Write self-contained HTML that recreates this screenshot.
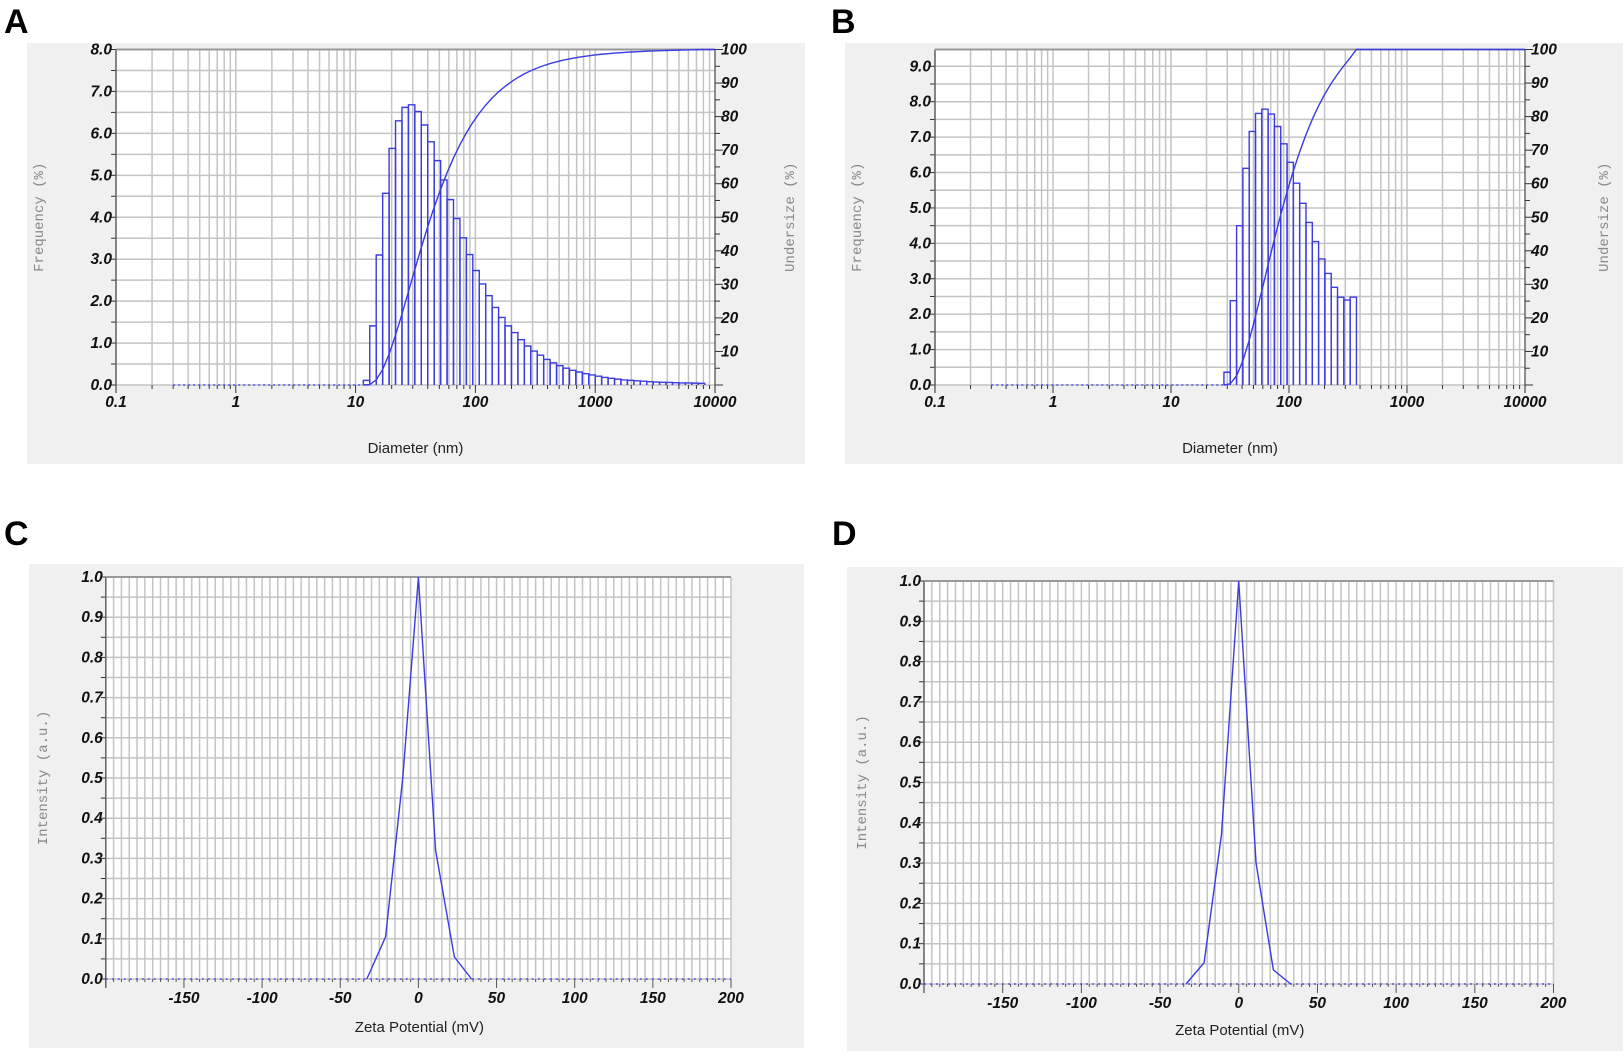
<!DOCTYPE html>
<html><head><meta charset="utf-8">
<style>
html,body{margin:0;padding:0;background:#fff;}
svg{display:block;}
.tick{font-family:"Liberation Sans",sans-serif;font-weight:bold;font-style:italic;font-size:15.5px;fill:#111;}
.mono{font-family:"Liberation Mono",monospace;font-size:14px;fill:#888;}
.xt{font-family:"Liberation Sans",sans-serif;font-size:15px;fill:#222;}
.pl{font-family:"Liberation Sans",sans-serif;font-weight:bold;font-size:34px;fill:#000;}
</style></head>
<body>
<svg id="fig" width="1624" height="1057" viewBox="0 0 1624 1057" xmlns="http://www.w3.org/2000/svg"></svg>
<script>
// ---- Data ----
const aBinStart = 11.6;
const aBinsPerDecade = 18.6;
const aFreq = [0.11,1.41,3.1,4.57,5.64,6.3,6.62,6.68,6.52,6.2,5.8,5.35,4.89,4.42,3.97,3.51,3.11,2.73,2.41,2.13,1.85,1.61,1.41,1.25,1.08,0.93,0.81,0.71,0.61,0.53,0.46,0.40,0.35,0.31,0.27,0.24,0.21,0.18,0.16,0.14,0.12,0.11,0.10,0.09,0.08,0.07,0.065,0.06,0.055,0.05,0.05,0.045,0.04];
const bBinStart = 28.1;
const bBinsPerDecade = 18.7;
const bFreq = [0.36,2.38,4.5,6.12,7.16,7.67,7.79,7.65,7.3,6.81,6.29,5.7,5.13,4.59,4.05,3.56,3.15,2.76,2.48,2.4,2.48];
const cMv = [-33,-21,-10,0,11,23,34];
const cInt = [0,0.105,0.5,1.0,0.32,0.055,0];
const dMv = [-33.5,-22,-11,0,11,22,33];
const dInt = [0,0.053,0.37,1.0,0.3,0.035,0];
const aYTicks = ["0.0","1.0","2.0","3.0","4.0","5.0","6.0","7.0","8.0"];
const bYTicks = ["0.0","1.0","2.0","3.0","4.0","5.0","6.0","7.0","8.0","9.0"];
const rTicks = [10,20,30,40,50,60,70,80,90,100];
const logTicks = ["0.1","1","10","100","1000","10000"];
const zTicks = [-150,-100,-50,0,50,100,150,200];
const zyTicks = ["0.0","0.1","0.2","0.3","0.4","0.5","0.6","0.7","0.8","0.9","1.0"];

const NS="http://www.w3.org/2000/svg";
const svg=document.getElementById('fig');
function el(tag,attrs,parent,text){const e=document.createElementNS(NS,tag);for(const k in attrs)e.setAttribute(k,attrs[k]);if(text!==undefined)e.textContent=text;(parent||svg).appendChild(e);return e;}
const BLUE="#3b3be0", GRID="#c4c4c4";

function panelLetter(t,x,y){const e=el('text',{x:x,y:y,class:'pl'},svg,t);}

function sizePanel(cfg){
  const g=el('g',{});
  const bg=el('rect',{x:cfg.bx,y:cfg.by,width:cfg.bw,height:cfg.bh,fill:'#f0f0f0'},g);
  
  const L=cfg.x0,R=cfg.x1,T=cfg.yTop,B=cfg.y0;
  el('rect',{x:L,y:T,width:R-L,height:B-T,fill:'#fff'},g);
  const dec=(R-L)/5;
  const X=d=>L+(Math.log10(d)+1)*dec;
  const Y=v=>B-v*(B-cfg.yRef)/cfg.yRefVal;
  const grid=el('g',{stroke:GRID,'stroke-width':1.5},g);
  for(let e=-1;e<4;e++)for(let m=1;m<10;m++){const x=X(m*Math.pow(10,e));el('line',{x1:x,x2:x,y1:T,y2:B},grid);
    el('line',{x1:x,x2:x,y1:B,y2:B+(m==1?8:4),stroke:'#333'},g);}
  for(let v=0;v*(B-cfg.yRef)/cfg.yRefVal<=B-T+0.5;v+=0.5){const y=Y(v);el('line',{x1:L,x2:R,y1:y,y2:y},grid);el('line',{x1:L-5,x2:L,y1:y,y2:y,stroke:'#333'},g);}
  el('line',{x1:R,x2:R+8,y1:B,y2:B,stroke:'#333'},g);
  el('line',{x1:L,x2:L,y1:T,y2:B+8,stroke:'#555','stroke-width':1.3},g);
  el('line',{x1:R,x2:R,y1:T,y2:B+8,stroke:'#555','stroke-width':1.3},g);
  el('line',{x1:L,x2:R,y1:T,y2:T,stroke:'#999','stroke-width':2},g);
  cfg.yt.forEach((t,i)=>{const tx=el('text',{x:L-4,y:Y(i)+5,class:'tick','text-anchor':'end'},g,t);});
  const YR=p=>B-p/100*(B-T);
  for(let p=5;p<=100;p+=5){el('line',{x1:R,x2:R+(p%10==0?8:5),y1:YR(p),y2:YR(p),stroke:'#333'},g);}
  rTicks.forEach(p=>{const tx=el('text',{x:R+6,y:YR(p)+5,class:'tick'},g,String(p));});
  logTicks.forEach(t=>{const tx=el('text',{x:X(parseFloat(t)),y:B+22,class:'tick','text-anchor':'middle'},g,t);});
  el('line',{x1:X(0.3),x2:X(cfg.bs),y1:B,y2:B,stroke:BLUE,'stroke-width':1.3,'stroke-dasharray':'2,3'},g);
  const bars=el('g',{fill:'none',stroke:BLUE,'stroke-width':1.4},g);
  const r=Math.pow(10,1/cfg.bpd);
  let lo=cfg.bs, cum=0; const tot=cfg.f.reduce((a,b)=>a+b,0);
  const pts=[[X(lo),YR(0)]];
  cfg.f.forEach((v,i)=>{const hi=lo*r;const x1=X(lo),x2=X(hi),y=Y(v);
    const b=el('path',{d:`M${x1},${B}V${y}H${x2}V${B}`},bars);
    cum+=v;pts.push([x2,YR(cum/tot*100)]);lo=hi;});
  pts.push([R,YR(100)]);
  const c=el('polyline',{points:pts.map(p=>p.join(',')).join(' '),fill:'none',stroke:BLUE,'stroke-width':1.4},g);
  
  const xt=el('text',{x:(L+R)/2,y:cfg.by+cfg.bh-11,class:'xt','text-anchor':'middle'},g,'Diameter (nm)');
  const yt=el('text',{x:0,y:0,class:'mono','text-anchor':'middle',transform:`translate(${cfg.lx},${(T+B)/2}) rotate(-90)`},g,'Frequency (%)');
  const rt=el('text',{x:0,y:0,class:'mono','text-anchor':'middle',transform:`translate(${cfg.rx},${(T+B)/2}) rotate(-90)`},g,'Undersize (%)');
}

function zetaPanel(cfg){
  const g=el('g',{});
  const bg=el('rect',{x:cfg.bx,y:cfg.by,width:cfg.bw,height:cfg.bh,fill:'#f0f0f0'},g);
  
  const L=cfg.x0,R=cfg.x1,T=cfg.yTop,B=cfg.y0;
  const X=v=>L+(v+200)/400*(R-L), Y=v=>B-v*(B-T);
  el('rect',{x:L,y:T,width:R-L,height:B-T,fill:'#fff'},g);
  const grid=el('g',{stroke:GRID,'stroke-width':1.5},g);
  for(let v=-200;v<=200;v+=5){const x=X(v);el('line',{x1:x,x2:x,y1:T,y2:B},grid);el('line',{x1:x,x2:x,y1:B,y2:B+(v%50==0?9:3),stroke:'#555'},g);}
  for(let i=0;i<=20;i++){const y=Y(i*0.05);el('line',{x1:L,x2:R,y1:y,y2:y},grid);el('line',{x1:L-5,x2:L,y1:y,y2:y,stroke:'#333'},g);}
  el('line',{x1:L,x2:L,y1:T,y2:B+9,stroke:'#555','stroke-width':1.3},g);
  el('line',{x1:L,x2:R,y1:T,y2:T,stroke:'#999','stroke-width':2},g);
  el('line',{x1:L,x2:R,y1:B,y2:B,stroke:BLUE,'stroke-width':1.2,'stroke-dasharray':'2,4'},g);
  zyTicks.forEach((t,i)=>{const tx=el('text',{x:L-3,y:Y(i*0.1)+5,class:'tick','text-anchor':'end'},g,t);});
  zTicks.forEach(t=>{const tx=el('text',{x:X(t),y:B+24,class:'tick','text-anchor':'middle'},g,String(t));});
  const pts=cfg.xs.map((v,i)=>X(v)+','+Y(cfg.ys[i])).join(' ');
  const ln=el('polyline',{points:pts,fill:'none',stroke:BLUE,'stroke-width':1.4},g);
  const xt=el('text',{x:X(0)+1,y:cfg.by+cfg.bh-16,class:'xt','text-anchor':'middle'},g,'Zeta Potential (mV)');
  const yt=el('text',{x:0,y:0,class:'mono','text-anchor':'middle',transform:`translate(${cfg.lx},${(T+B)/2}) rotate(-90)`},g,'Intensity (a.u.)');
}

sizePanel({name:'panel-a',bx:27,by:43,bw:778,bh:421,x0:116,x1:715,yTop:49.5,y0:385,yRef:49.5,yRefVal:8,yt:aYTicks,bs:aBinStart,bpd:aBinsPerDecade,f:aFreq,lx:43,rx:794});
sizePanel({name:'panel-b',bx:845,by:43,bw:778,bh:421,x0:935,x1:1525,yTop:49.5,y0:385,yRef:66.3,yRefVal:9,yt:bYTicks,bs:bBinStart,bpd:bBinsPerDecade,f:bFreq,lx:861,rx:1608});
zetaPanel({name:'panel-c',bx:29,by:564,bw:775,bh:484,x0:105.8,x1:731,yTop:577,y0:979,xs:cMv,ys:cInt,lx:47});
zetaPanel({name:'panel-d',bx:847,by:567,bw:776,bh:484,x0:924,x1:1553.5,yTop:581,y0:984,xs:dMv,ys:dInt,lx:866});
panelLetter('A',4,33);panelLetter('B',831,33);panelLetter('C',4,545);panelLetter('D',832,545);
</script>
</body></html>
